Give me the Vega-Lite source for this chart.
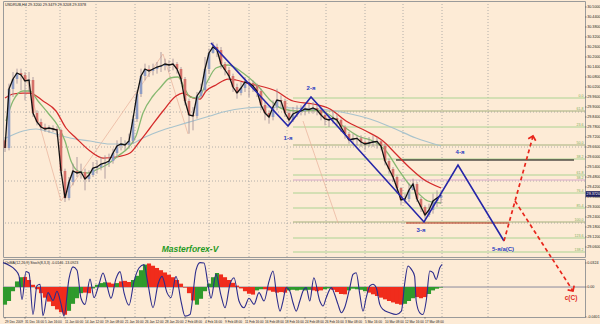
{
"$schema":"https://vega.github.io/schema/vega-lite/v6.json",
"background":"#fdebd6",
"padding":0,
"bounds":"flush",
"spacing":2,
"config":{"view":{"stroke":"#9a9a9a","strokeWidth":1},"text":{"font":"Liberation Sans"}},
"datasets":{
"vg":[{"t":5.25},{"t":13.75},{"t":22.75},{"t":32.5},{"t":41.25},{"t":51},{"t":61},{"t":70.5},{"t":80.25},{"t":90},{"t":99.5},{"t":109.25},{"t":120.75}],
"hg":[{"p":29.870},{"p":29.660},{"p":29.456},{"p":29.204}],
"yt":[{"p":30.5,"s":"30.5000"},{"p":30.44,"s":"30.4400"},{"p":30.38,"s":"30.3800"},{"p":30.32,"s":"30.3200"},{"p":30.26,"s":"30.2600"},{"p":30.2,"s":"30.2000"},{"p":30.14,"s":"30.1400"},{"p":30.08,"s":"30.0800"},{"p":30.02,"s":"30.0200"},{"p":29.96,"s":"29.9600"},{"p":29.9,"s":"29.9000"},{"p":29.84,"s":"29.8400"},{"p":29.78,"s":"29.7800"},{"p":29.72,"s":"29.7200"},{"p":29.66,"s":"29.6600"},{"p":29.6,"s":"29.6000"},{"p":29.54,"s":"29.5400"},{"p":29.48,"s":"29.4800"},{"p":29.42,"s":"29.4200"},{"p":29.36,"s":"29.3600"},{"p":29.3,"s":"29.3000"},{"p":29.24,"s":"29.2400"},{"p":29.18,"s":"29.1800"},{"p":29.12,"s":"29.1200"},{"p":29.06,"s":"29.0600"}],
"xl":[{"t":0,"s":"29 Dec 2009"},{"t":5,"s":"31 Dec 16:00"},{"t":10,"s":"5 Jan 16:00"},{"t":15,"s":"11 Jan 00:00"},{"t":20,"s":"14 Jan 12:00"},{"t":25,"s":"19 Jan 08:00"},{"t":30,"s":"21 Jan 16:00"},{"t":35,"s":"26 Jan 12:00"},{"t":40,"s":"28 Jan 20:00"},{"t":45,"s":"2 Feb 08:00"},{"t":50,"s":"4 Feb 16:00"},{"t":55,"s":"9 Feb 08:00"},{"t":60,"s":"11 Feb 16:00"},{"t":65,"s":"16 Feb 08:00"},{"t":70,"s":"18 Feb 16:00"},{"t":75,"s":"24 Feb 08:00"},{"t":80,"s":"26 Feb 16:00"},{"t":85,"s":"3 Mar 08:00"},{"t":90,"s":"5 Mar 16:00"},{"t":95,"s":"10 Mar 08:00"},{"t":100,"s":"12 Mar 16:00"},{"t":105,"s":"17 Mar 08:00"}],
"yl2":[{"v":0.857,"s":"0.0324"},{"v":0,"s":"0.00"},{"v":-1.07,"s":"-0.0401"}],
"hl":[{"k":"fib","t1":72,"t2":145,"p":29.954},{"k":"fibd","t1":72,"t2":145,"p":29.876},{"k":"fib","t1":72,"t2":145,"p":29.780},{"k":"fibd","t1":72,"t2":145,"p":29.672},{"k":"fib","t1":72,"t2":145,"p":29.588},{"k":"fib","t1":72,"t2":145,"p":29.492},{"k":"pink","t1":72,"t2":145,"p":29.462},{"k":"fib","t1":72,"t2":145,"p":29.384},{"k":"fib","t1":72,"t2":145,"p":29.294},{"k":"fibd","t1":72,"t2":145,"p":29.210},{"k":"fib","t1":72,"t2":145,"p":29.114},{"k":"fib","t1":72,"t2":145,"p":29.030},{"k":"blk","t1":97.75,"t2":142.25,"p":29.582},{"k":"red","t1":100.25,"t2":126,"p":29.204}],
"fl":[{"p":29.966,"s":"0.0"},{"p":29.888,"s":"61.8"},{"p":29.792,"s":"23.6"},{"p":29.684,"s":"50.0"},{"p":29.600,"s":"38.2"},{"p":29.504,"s":"61.8"},{"p":29.474,"s":"38.2"},{"p":29.396,"s":"76.4"},{"p":29.306,"s":"85.4"},{"p":29.222,"s":"100.0"},{"p":29.126,"s":"123.6"},{"p":29.042,"s":"138.2"}],
"zz":[{"g":"a","t":5,"p":30.104},{"g":"a","t":14,"p":29.336},{"g":"a","t":39.5,"p":30.218},{"g":"a","t":45.75,"p":29.738},{"g":"b","t":74.5,"p":29.816},{"g":"b","t":83.25,"p":29.204}],
"ma":[
{"k":"g","t":0.25,"p":29.714},{"k":"g","t":4.5,"p":29.756},{"k":"g","t":7.75,"p":29.768},{"k":"g","t":12,"p":29.744},{"k":"g","t":16.25,"p":29.714},{"k":"g","t":21.25,"p":29.696},{"k":"g","t":26.25,"p":29.678},{"k":"g","t":31.25,"p":29.678},{"k":"g","t":34.5,"p":29.714},{"k":"g","t":38.75,"p":29.756},{"k":"g","t":42.75,"p":29.786},{"k":"g","t":47,"p":29.816},{"k":"g","t":51.25,"p":29.846},{"k":"g","t":54.5,"p":29.870},{"k":"g","t":60.25,"p":29.894},{"k":"g","t":66.25,"p":29.900},{"k":"g","t":72,"p":29.894},{"k":"g","t":78.75,"p":29.888},{"k":"g","t":85.25,"p":29.864},{"k":"g","t":91.25,"p":29.828},{"k":"g","t":97,"p":29.774},{"k":"g","t":102.75,"p":29.714},{"k":"g","t":109,"p":29.666},
{"k":"r","t":0,"p":29.954},{"k":"r","t":2,"p":29.978},{"k":"r","t":4.5,"p":29.984},{"k":"r","t":6.25,"p":29.984},{"k":"r","t":9.5,"p":29.936},{"k":"r","t":12.75,"p":29.876},{"k":"r","t":15.25,"p":29.774},{"k":"r","t":17.75,"p":29.714},{"k":"r","t":21.25,"p":29.636},{"k":"r","t":24.5,"p":29.594},{"k":"r","t":27.75,"p":29.600},{"k":"r","t":31.25,"p":29.624},{"k":"r","t":33.75,"p":29.696},{"k":"r","t":36.25,"p":29.774},{"k":"r","t":39.5,"p":29.876},{"k":"r","t":42.75,"p":29.966},{"k":"r","t":44.5,"p":29.984},{"k":"r","t":47,"p":29.954},{"k":"r","t":48.75,"p":29.948},{"k":"r","t":50.25,"p":29.996},{"k":"r","t":52.75,"p":30.032},{"k":"r","t":55.75,"p":30.068},{"k":"r","t":57.75,"p":30.062},{"k":"r","t":61.25,"p":30.038},{"k":"r","t":63.75,"p":30.026},{"k":"r","t":67.75,"p":29.996},{"k":"r","t":72,"p":29.936},{"k":"r","t":77,"p":29.918},{"k":"r","t":81.25,"p":29.888},{"k":"r","t":85.25,"p":29.816},{"k":"r","t":90.25,"p":29.756},{"k":"r","t":94.5,"p":29.696},{"k":"r","t":97.75,"p":29.618},{"k":"r","t":101.25,"p":29.534},{"k":"r","t":104.5,"p":29.468},{"k":"r","t":109,"p":29.414},
{"k":"n","t":0.25,"p":29.816},{"k":"n","t":2,"p":29.936},{"k":"n","t":4.5,"p":29.996},{"k":"n","t":6.25,"p":29.996},{"k":"n","t":8.25,"p":29.936},{"k":"n","t":10.75,"p":29.864},{"k":"n","t":13.25,"p":29.786},{"k":"n","t":15,"p":29.696},{"k":"n","t":16.5,"p":29.576},{"k":"n","t":18.25,"p":29.516},{"k":"n","t":20.75,"p":29.504},{"k":"n","t":23.25,"p":29.528},{"k":"n","t":25.75,"p":29.558},{"k":"n","t":28.25,"p":29.606},{"k":"n","t":30.75,"p":29.654},{"k":"n","t":32.75,"p":29.726},{"k":"n","t":34.5,"p":29.864},{"k":"n","t":37,"p":29.966},{"k":"n","t":38.75,"p":30.014},{"k":"n","t":41.25,"p":30.074},{"k":"n","t":43.25,"p":30.080},{"k":"n","t":45,"p":30.008},{"k":"n","t":46.25,"p":29.960},{"k":"n","t":48.25,"p":29.954},{"k":"n","t":50.25,"p":30.038},{"k":"n","t":52.75,"p":30.134},{"k":"n","t":55.75,"p":30.152},{"k":"n","t":59.5,"p":30.104},{"k":"n","t":63.25,"p":30.026},{"k":"n","t":66.5,"p":29.936},{"k":"n","t":69.5,"p":29.888},{"k":"n","t":73.25,"p":29.876},{"k":"n","t":77,"p":29.882},{"k":"n","t":80.75,"p":29.858},{"k":"n","t":84.5,"p":29.786},{"k":"n","t":88.25,"p":29.726},{"k":"n","t":92,"p":29.696},{"k":"n","t":95.25,"p":29.636},{"k":"n","t":98.25,"p":29.528},{"k":"n","t":100.75,"p":29.444},{"k":"n","t":103.25,"p":29.384},{"k":"n","t":105.75,"p":29.336},{"k":"n","t":109,"p":29.324}],
"cd":[
{"t":0,"o":29.700,"h":29.720,"l":29.630,"c":29.654},{"t":1,"o":29.654,"h":30.040,"l":29.640,"c":30.008},{"t":2,"o":30.008,"h":30.110,"l":29.960,"c":30.068},{"t":3,"o":30.068,"h":30.130,"l":30.040,"c":30.104},{"t":4,"o":30.104,"h":30.130,"l":30.000,"c":30.092},{"t":5,"o":30.092,"h":30.110,"l":29.940,"c":30.056},{"t":6,"o":30.056,"h":30.110,"l":29.990,"c":30.062},{"t":7,"o":30.062,"h":30.080,"l":29.840,"c":29.864},{"t":8,"o":29.864,"h":29.880,"l":29.790,"c":29.810},{"t":9,"o":29.810,"h":29.830,"l":29.760,"c":29.780},
{"t":10,"o":29.780,"h":29.800,"l":29.750,"c":29.768},{"t":11,"o":29.768,"h":29.790,"l":29.745,"c":29.774},{"t":12,"o":29.774,"h":29.790,"l":29.750,"c":29.768},{"t":13,"o":29.768,"h":29.785,"l":29.720,"c":29.762},{"t":14,"o":29.762,"h":29.770,"l":29.490,"c":29.516},{"t":15,"o":29.516,"h":29.530,"l":29.330,"c":29.354},{"t":16,"o":29.354,"h":29.480,"l":29.340,"c":29.450},{"t":17,"o":29.450,"h":29.560,"l":29.430,"c":29.516},{"t":18,"o":29.516,"h":29.600,"l":29.480,"c":29.504},{"t":19,"o":29.504,"h":29.560,"l":29.470,"c":29.510},
{"t":20,"o":29.510,"h":29.530,"l":29.400,"c":29.468},{"t":21,"o":29.468,"h":29.520,"l":29.450,"c":29.492},{"t":22,"o":29.492,"h":29.570,"l":29.480,"c":29.534},{"t":23,"o":29.534,"h":29.580,"l":29.500,"c":29.540},{"t":24,"o":29.540,"h":29.600,"l":29.520,"c":29.558},{"t":25,"o":29.558,"h":29.610,"l":29.470,"c":29.564},{"t":26,"o":29.564,"h":29.620,"l":29.540,"c":29.576},{"t":27,"o":29.576,"h":29.650,"l":29.560,"c":29.624},{"t":28,"o":29.624,"h":29.700,"l":29.600,"c":29.666},{"t":29,"o":29.666,"h":29.720,"l":29.640,"c":29.678},
{"t":30,"o":29.678,"h":29.700,"l":29.640,"c":29.672},{"t":31,"o":29.672,"h":29.740,"l":29.650,"c":29.696},{"t":32,"o":29.696,"h":29.850,"l":29.680,"c":29.828},{"t":33,"o":29.828,"h":30.000,"l":29.810,"c":29.978},{"t":34,"o":29.978,"h":30.130,"l":29.960,"c":30.086},{"t":35,"o":30.086,"h":30.160,"l":30.060,"c":30.128},{"t":36,"o":30.128,"h":30.150,"l":30.080,"c":30.116},{"t":37,"o":30.116,"h":30.160,"l":30.090,"c":30.128},{"t":38,"o":30.128,"h":30.170,"l":30.100,"c":30.140},{"t":39,"o":30.140,"h":30.230,"l":30.110,"c":30.146},
{"t":40,"o":30.146,"h":30.190,"l":30.120,"c":30.158},{"t":41,"o":30.158,"h":30.180,"l":30.110,"c":30.152},{"t":42,"o":30.152,"h":30.190,"l":30.120,"c":30.158},{"t":43,"o":30.158,"h":30.170,"l":30.100,"c":30.128},{"t":44,"o":30.128,"h":30.140,"l":30.040,"c":30.068},{"t":45,"o":30.068,"h":30.080,"l":29.910,"c":29.936},{"t":46,"o":29.936,"h":29.950,"l":29.740,"c":29.852},{"t":47,"o":29.852,"h":29.900,"l":29.760,"c":29.846},{"t":48,"o":29.846,"h":29.990,"l":29.830,"c":29.966},{"t":49,"o":29.966,"h":30.040,"l":29.950,"c":30.002},
{"t":50,"o":30.002,"h":30.200,"l":29.990,"c":30.128},{"t":51,"o":30.128,"h":30.250,"l":30.100,"c":30.224},{"t":52,"o":30.224,"h":30.290,"l":30.220,"c":30.260},{"t":53,"o":30.260,"h":30.280,"l":30.200,"c":30.242},{"t":54,"o":30.242,"h":30.260,"l":30.130,"c":30.158},{"t":55,"o":30.158,"h":30.170,"l":30.090,"c":30.122},{"t":56,"o":30.122,"h":30.140,"l":30.060,"c":30.086},{"t":57,"o":30.086,"h":30.100,"l":29.990,"c":30.020},{"t":58,"o":30.020,"h":30.040,"l":29.950,"c":29.984},{"t":59,"o":29.984,"h":30.050,"l":29.970,"c":30.014},
{"t":60,"o":30.014,"h":30.080,"l":29.990,"c":30.050},{"t":61,"o":30.050,"h":30.070,"l":29.960,"c":30.044},{"t":62,"o":30.044,"h":30.060,"l":29.990,"c":30.026},{"t":63,"o":30.026,"h":30.040,"l":29.960,"c":29.996},{"t":64,"o":29.996,"h":30.010,"l":29.880,"c":29.912},{"t":65,"o":29.912,"h":29.930,"l":29.820,"c":29.864},{"t":66,"o":29.864,"h":29.880,"l":29.800,"c":29.840},{"t":67,"o":29.840,"h":29.940,"l":29.820,"c":29.900},{"t":68,"o":29.900,"h":30.010,"l":29.880,"c":29.942},{"t":69,"o":29.942,"h":29.970,"l":29.900,"c":29.936},
{"t":70,"o":29.936,"h":29.950,"l":29.840,"c":29.864},{"t":71,"o":29.864,"h":29.880,"l":29.800,"c":29.822},{"t":72,"o":29.822,"h":29.900,"l":29.810,"c":29.858},{"t":73,"o":29.858,"h":29.910,"l":29.840,"c":29.870},{"t":74,"o":29.870,"h":29.910,"l":29.850,"c":29.876},{"t":75,"o":29.876,"h":29.920,"l":29.850,"c":29.888},{"t":76,"o":29.888,"h":29.920,"l":29.860,"c":29.884},{"t":77,"o":29.884,"h":29.930,"l":29.860,"c":29.894},{"t":78,"o":29.894,"h":29.910,"l":29.850,"c":29.882},{"t":79,"o":29.882,"h":29.890,"l":29.820,"c":29.852},
{"t":80,"o":29.852,"h":29.870,"l":29.790,"c":29.828},{"t":81,"o":29.828,"h":29.850,"l":29.780,"c":29.822},{"t":82,"o":29.822,"h":29.880,"l":29.800,"c":29.834},{"t":83,"o":29.834,"h":29.860,"l":29.790,"c":29.822},{"t":84,"o":29.822,"h":29.830,"l":29.750,"c":29.780},{"t":85,"o":29.780,"h":29.790,"l":29.710,"c":29.738},{"t":86,"o":29.738,"h":29.750,"l":29.680,"c":29.702},{"t":87,"o":29.702,"h":29.740,"l":29.680,"c":29.708},{"t":88,"o":29.708,"h":29.730,"l":29.670,"c":29.712},{"t":89,"o":29.712,"h":29.730,"l":29.660,"c":29.690},
{"t":90,"o":29.690,"h":29.700,"l":29.640,"c":29.678},{"t":91,"o":29.678,"h":29.720,"l":29.660,"c":29.684},{"t":92,"o":29.684,"h":29.730,"l":29.660,"c":29.690},{"t":93,"o":29.690,"h":29.720,"l":29.650,"c":29.694},{"t":94,"o":29.694,"h":29.700,"l":29.640,"c":29.666},{"t":95,"o":29.666,"h":29.680,"l":29.550,"c":29.576},{"t":96,"o":29.576,"h":29.590,"l":29.500,"c":29.528},{"t":97,"o":29.528,"h":29.540,"l":29.450,"c":29.480},{"t":98,"o":29.480,"h":29.490,"l":29.380,"c":29.414},{"t":99,"o":29.414,"h":29.420,"l":29.310,"c":29.342},
{"t":100,"o":29.342,"h":29.380,"l":29.320,"c":29.348},{"t":101,"o":29.348,"h":29.440,"l":29.330,"c":29.402},{"t":102,"o":29.402,"h":29.470,"l":29.400,"c":29.438},{"t":103,"o":29.438,"h":29.450,"l":29.330,"c":29.348},{"t":104,"o":29.348,"h":29.360,"l":29.270,"c":29.300},{"t":105,"o":29.300,"h":29.310,"l":29.230,"c":29.252},{"t":106,"o":29.252,"h":29.320,"l":29.240,"c":29.282},{"t":107,"o":29.282,"h":29.380,"l":29.260,"c":29.336},{"t":108,"o":29.336,"h":29.400,"l":29.300,"c":29.354},{"t":109,"o":29.354,"h":29.400,"l":29.320,"c":29.372}],
"wave":[{"t":51.5,"p":30.284},{"t":70.75,"p":29.786},{"t":76.5,"p":29.960},{"t":104.75,"p":29.210},{"t":113.25,"p":29.552},{"t":124.75,"p":29.096}],
"arr":[{"g":"a1","t":124.75,"p":29.096},{"g":"a1","t":132,"p":29.726},{"g":"a2","t":127.5,"p":29.336},{"g":"a2","t":136.5,"p":29.0}],
"arrlo":[{"t":136.85,"v":1.0},{"t":142,"v":-0.142}],
"wl":[{"t":70.75,"p":29.714,"s":"1-я"},{"t":76.5,"p":30.014,"s":"2-я"},{"t":104,"p":29.162,"s":"3-я"},{"t":113.75,"p":29.630,"s":"4-я"},{"t":124.5,"p":29.048,"s":"5-я/а(C)"}],
"osc":[{"t":-0.5,"v":0.87},{"t":1,"v":0.78},{"t":2.5,"v":0.62},{"t":3.5,"v":0.40},{"t":4.25,"v":-0.45},{"t":5.25,"v":0.55},{"t":6,"v":0.50},{"t":7,"v":-0.98},{"t":8,"v":0.05},{"t":8.75,"v":0.10},{"t":9.5,"v":-1.02},{"t":10.75,"v":-0.20},{"t":12,"v":-0.48},{"t":13,"v":-0.15},{"t":14,"v":-0.60},{"t":14.75,"v":-1.04},{"t":16,"v":0.30},{"t":17,"v":0.72},{"t":18,"v":0.60},{"t":19,"v":-0.40},{"t":20,"v":-0.62},{"t":21.25,"v":0.28},{"t":22.25,"v":-0.38},{"t":23.5,"v":0.10},{"t":24.5,"v":0.50},{"t":25.5,"v":0.05},{"t":26.5,"v":-0.40},{"t":27.75,"v":0.30},{"t":28.75,"v":0.55},{"t":29.75,"v":-0.20},{"t":31,"v":-0.65},{"t":32.25,"v":0.20},{"t":33.5,"v":0.68},{"t":34.75,"v":0.80},{"t":35.75,"v":0.10},{"t":37,"v":-0.74},{"t":38.25,"v":0.10},{"t":39.25,"v":0.38},{"t":40.5,"v":-0.20},{"t":41.5,"v":-0.38},{"t":42.75,"v":0.38},{"t":44,"v":-0.50},{"t":45,"v":-1.04},{"t":46.25,"v":-0.98},{"t":47.75,"v":0.60},{"t":48.75,"v":0.87},{"t":49.75,"v":0.86},{"t":50.75,"v":0.10},{"t":51.5,"v":-0.40},{"t":52.75,"v":0.45},{"t":54,"v":-0.30},{"t":55,"v":-0.74},{"t":56.25,"v":0.10},{"t":57.25,"v":0.33},{"t":58.5,"v":-0.50},{"t":59.75,"v":-0.74},{"t":61,"v":-0.40},{"t":62.25,"v":-0.62},{"t":63.5,"v":-0.20},{"t":64.75,"v":-0.50},{"t":66,"v":0.20},{"t":67,"v":0.57},{"t":68,"v":-0.40},{"t":68.75,"v":-0.86},{"t":69.5,"v":-0.50},{"t":70.3,"v":-0.02},{"t":71.2,"v":-0.14},{"t":72,"v":-0.56},{"t":72.8,"v":-0.86},{"t":73.7,"v":-0.50},{"t":74.5,"v":-0.14},{"t":75.3,"v":-0.02},{"t":76.2,"v":-0.50},{"t":77.2,"v":0.33},{"t":78.7,"v":-0.50},{"t":79.5,"v":-0.68},{"t":80.3,"v":-0.38},{"t":81.6,"v":-0.02},{"t":82.4,"v":-0.26},{"t":83.25,"v":-0.62},{"t":84.1,"v":-0.92},{"t":84.9,"v":-0.74},{"t":86.2,"v":-0.02},{"t":87,"v":0.45},{"t":87.8,"v":0.51},{"t":88.7,"v":-0.26},{"t":89.5,"v":-0.86},{"t":90.3,"v":-0.38},{"t":91.2,"v":0.04},{"t":92,"v":0.10},{"t":92.8,"v":-0.02},{"t":93.7,"v":-0.62},{"t":94.5,"v":-0.80},{"t":96.2,"v":-0.92},{"t":97.8,"v":-0.98},{"t":99.1,"v":-0.86},{"t":99.9,"v":0.10},{"t":100.75,"v":0.75},{"t":101.6,"v":0.63},{"t":102.4,"v":0.39},{"t":102.8,"v":-0.50},{"t":103.7,"v":-0.92},{"t":104.5,"v":-0.98},{"t":105.3,"v":-0.50},{"t":106.2,"v":0.57},{"t":107,"v":0.51},{"t":107.8,"v":0.27},{"t":108.7,"v":0.69},{"t":109.3,"v":0.81}],
"hist":[{"t":0,"h":-0.63,"s":"u"},{"t":1,"h":-0.5,"s":"u"},{"t":2,"h":-0.15,"s":"u"},{"t":3,"h":0.2,"s":"u"},{"t":4,"h":0.35,"s":"u"},{"t":5,"h":0.36,"s":"d"},{"t":6,"h":0.25,"s":"d"},{"t":7,"h":0.08,"s":"d"},{"t":8,"h":-0.08,"s":"d"},{"t":9,"h":-0.22,"s":"d"},{"t":10,"h":-0.38,"s":"d"},{"t":11,"h":-0.52,"s":"d"},{"t":12,"h":-0.68,"s":"d"},{"t":13,"h":-0.8,"s":"d"},{"t":14,"h":-0.9,"s":"d"},{"t":15,"h":-0.99,"s":"d"},{"t":16,"h":-0.85,"s":"u"},{"t":17,"h":-0.6,"s":"u"},{"t":18,"h":-0.4,"s":"u"},{"t":19,"h":-0.22,"s":"u"},{"t":20,"h":-0.2,"s":"d"},{"t":21,"h":-0.22,"s":"d"},{"t":22,"h":-0.05,"s":"u"},{"t":23,"h":0.08,"s":"u"},{"t":24,"h":0.14,"s":"u"},{"t":25,"h":0.17,"s":"u"},{"t":26,"h":0.16,"s":"d"},{"t":27,"h":0.12,"s":"d"},{"t":28,"h":0.14,"s":"u"},{"t":29,"h":0.2,"s":"d"},{"t":30,"h":0.22,"s":"d"},{"t":31,"h":0.18,"s":"d"},{"t":32,"h":0.25,"s":"u"},{"t":33,"h":0.4,"s":"u"},{"t":34,"h":0.6,"s":"u"},{"t":35,"h":0.8,"s":"u"},{"t":36,"h":0.84,"s":"d"},{"t":37,"h":0.76,"s":"d"},{"t":38,"h":0.68,"s":"d"},{"t":39,"h":0.6,"s":"d"},{"t":40,"h":0.52,"s":"d"},{"t":41,"h":0.44,"s":"d"},{"t":42,"h":0.35,"s":"d"},{"t":43,"h":0.25,"s":"d"},{"t":44,"h":0.12,"s":"d"},{"t":45,"h":-0.02,"s":"d"},{"t":46,"h":-0.22,"s":"d"},{"t":47,"h":-0.48,"s":"d"},{"t":48,"h":-0.63,"s":"u"},{"t":49,"h":-0.42,"s":"u"},{"t":50,"h":-0.15,"s":"u"},{"t":51,"h":0.12,"s":"u"},{"t":52,"h":0.35,"s":"u"},{"t":53,"h":0.5,"s":"u"},{"t":54,"h":0.45,"s":"d"},{"t":55,"h":0.35,"s":"d"},{"t":56,"h":0.25,"s":"d"},{"t":57,"h":0.15,"s":"d"},{"t":58,"h":0.05,"s":"d"},{"t":59,"h":-0.05,"s":"d"},{"t":60,"h":-0.15,"s":"d"},{"t":61,"h":-0.24,"s":"d"},{"t":62,"h":-0.27,"s":"d"},{"t":63,"h":-0.12,"s":"u"},{"t":64,"h":-0.08,"s":"u"},{"t":65,"h":-0.08,"s":"d"},{"t":66,"h":-0.12,"s":"d"},{"t":67,"h":-0.17,"s":"d"},{"t":68,"h":-0.2,"s":"d"},{"t":69,"h":-0.18,"s":"d"},{"t":70,"h":-0.2,"s":"d"},{"t":71,"h":-0.12,"s":"u"},{"t":72,"h":-0.1,"s":"u"},{"t":73,"h":-0.12,"s":"u"},{"t":74,"h":-0.1,"s":"u"},{"t":75,"h":-0.12,"s":"u"},{"t":76,"h":-0.1,"s":"u"},{"t":77,"h":-0.12,"s":"d"},{"t":78,"h":-0.15,"s":"d"},{"t":79,"h":-0.12,"s":"d"},{"t":80,"h":-0.08,"s":"u"},{"t":81,"h":-0.05,"s":"u"},{"t":82,"h":-0.1,"s":"d"},{"t":83,"h":-0.18,"s":"d"},{"t":84,"h":-0.25,"s":"d"},{"t":85,"h":-0.26,"s":"d"},{"t":86,"h":-0.12,"s":"u"},{"t":87,"h":-0.06,"s":"u"},{"t":88,"h":-0.08,"s":"u"},{"t":89,"h":-0.1,"s":"u"},{"t":90,"h":-0.15,"s":"u"},{"t":91,"h":-0.2,"s":"d"},{"t":92,"h":-0.26,"s":"d"},{"t":93,"h":-0.32,"s":"d"},{"t":94,"h":-0.38,"s":"d"},{"t":95,"h":-0.44,"s":"d"},{"t":96,"h":-0.5,"s":"d"},{"t":97,"h":-0.55,"s":"d"},{"t":98,"h":-0.6,"s":"d"},{"t":99,"h":-0.63,"s":"d"},{"t":100,"h":-0.6,"s":"u"},{"t":101,"h":-0.5,"s":"u"},{"t":102,"h":-0.4,"s":"u"},{"t":103,"h":-0.36,"s":"d"},{"t":104,"h":-0.4,"s":"d"},{"t":105,"h":-0.36,"s":"d"},{"t":106,"h":-0.25,"s":"u"},{"t":107,"h":-0.12,"s":"u"},{"t":108,"h":-0.06,"s":"u"},{"t":109,"h":-0.02,"s":"u"}]
},
"vconcat":[
{
"width":582,"height":256,
"resolve":{"scale":{"color":"independent","strokeWidth":"independent"}},
"layer":[
{"data":{"name":"vg"},"mark":{"type":"rule","color":"#a0a0a0","strokeDash":[1,2],"strokeWidth":0.8},
 "encoding":{"x":{"field":"t","type":"quantitative","scale":{"domain":[-0.5,145],"nice":false,"zero":false},"axis":null}}},
{"data":{"name":"hg"},"mark":{"type":"rule","color":"#a0a0a0","strokeDash":[1,2],"strokeWidth":0.8},
 "encoding":{"y":{"field":"p","type":"quantitative","scale":{"domain":[29.0,30.536],"nice":false,"zero":false},"axis":null}}},
{"data":{"name":"yt"},"mark":{"type":"rule","color":"#666666","strokeWidth":0.8},
 "encoding":{"x":{"datum":145,"type":"quantitative","scale":{"domain":[-0.5,145],"nice":false,"zero":false},"axis":null},"x2":{"datum":145.4},
  "y":{"field":"p","type":"quantitative","scale":{"domain":[29.0,30.536],"nice":false,"zero":false},"axis":null}}},
{"data":{"name":"yt"},"mark":{"type":"text","align":"left","baseline":"middle","fontSize":3.7,"color":"#222222"},
 "encoding":{"x":{"datum":145.55,"type":"quantitative","scale":{"domain":[-0.5,145],"nice":false,"zero":false},"axis":null},
  "y":{"field":"p","type":"quantitative","scale":{"domain":[29.0,30.536],"nice":false,"zero":false},"axis":null},"text":{"field":"s"}}},
{"data":{"name":"hl"},"mark":{"type":"rule"},
 "encoding":{"x":{"field":"t1","type":"quantitative","scale":{"domain":[-0.5,145],"nice":false,"zero":false},"axis":null},"x2":{"field":"t2"},
  "y":{"field":"p","type":"quantitative","scale":{"domain":[29.0,30.536],"nice":false,"zero":false},"axis":null},
  "color":{"field":"k","type":"nominal","scale":{"domain":["fib","fibd","pink","blk","red"],"range":["#acd392","#a4b07c","#d8a8c8","#000000","#b8321a"]},"legend":null},
  "strokeWidth":{"field":"k","type":"ordinal","scale":{"domain":["fib","fibd","pink","blk","red"],"range":[1,1,1,2.6,1.6]},"legend":null}}},
{"data":{"name":"fl"},"mark":{"type":"text","align":"right","baseline":"middle","fontSize":3.6,"color":"#7fae62"},
 "encoding":{"x":{"datum":144.6,"type":"quantitative","scale":{"domain":[-0.5,145],"nice":false,"zero":false},"axis":null},
  "y":{"field":"p","type":"quantitative","scale":{"domain":[29.0,30.536],"nice":false,"zero":false},"axis":null},"text":{"field":"s"}}},
{"data":{"name":"zz"},"mark":{"type":"line","color":"#e8b09a","strokeWidth":0.7},
 "encoding":{"x":{"field":"t","type":"quantitative","scale":{"domain":[-0.5,145],"nice":false,"zero":false},"axis":null},
  "y":{"field":"p","type":"quantitative","scale":{"domain":[29.0,30.536],"nice":false,"zero":false},"axis":null},"detail":{"field":"g"}}},
{"data":{"name":"ma"},"mark":{"type":"line","interpolate":"monotone"},
 "encoding":{"x":{"field":"t","type":"quantitative","scale":{"domain":[-0.5,145],"nice":false,"zero":false},"axis":null},
  "y":{"field":"p","type":"quantitative","scale":{"domain":[29.0,30.536],"nice":false,"zero":false},"axis":null},
  "color":{"field":"k","type":"nominal","scale":{"domain":["g","r","n"],"range":["#a9c3cc","#d42a2a","#86b870"]},"legend":null},
  "strokeWidth":{"field":"k","type":"ordinal","scale":{"domain":["g","r","n"],"range":[1.2,1.3,0.8]},"legend":null}}},
{"data":{"name":"cd"},"mark":{"type":"rule","color":"#9c8a94","strokeWidth":0.8},
 "encoding":{"x":{"field":"t","type":"quantitative","scale":{"domain":[-0.5,145],"nice":false,"zero":false},"axis":null},
  "y":{"field":"l","type":"quantitative","scale":{"domain":[29.0,30.536],"nice":false,"zero":false},"axis":null},"y2":{"field":"h"}}},
{"data":{"name":"cd"},"mark":{"type":"rule","strokeWidth":2.6,"strokeCap":"butt"},
 "encoding":{"x":{"field":"t","type":"quantitative","scale":{"domain":[-0.5,145],"nice":false,"zero":false},"axis":null},
  "y":{"field":"o","type":"quantitative","scale":{"domain":[29.0,30.536],"nice":false,"zero":false},"axis":null},"y2":{"field":"c"},
  "color":{"condition":{"test":"datum.c >= datum.o","value":"#8e9cc4"},"value":"#d4716a"}}},
{"data":{"name":"cd"},"mark":{"type":"line","color":"#111111","strokeWidth":1.3},
 "encoding":{"x":{"field":"t","type":"quantitative","scale":{"domain":[-0.5,145],"nice":false,"zero":false},"axis":null},
  "y":{"field":"c","type":"quantitative","scale":{"domain":[29.0,30.536],"nice":false,"zero":false},"axis":null}}},
{"data":{"name":"wave"},"mark":{"type":"line","color":"#2626a8","strokeWidth":1.6},
 "encoding":{"x":{"field":"t","type":"quantitative","scale":{"domain":[-0.5,145],"nice":false,"zero":false},"axis":null},
  "y":{"field":"p","type":"quantitative","scale":{"domain":[29.0,30.536],"nice":false,"zero":false},"axis":null}}},
{"data":{"name":"arr"},"mark":{"type":"line","color":"#e8261c","strokeWidth":1.7,"strokeDash":[4,3]},
 "encoding":{"x":{"field":"t","type":"quantitative","scale":{"domain":[-0.5,145],"nice":false,"zero":false},"axis":null},
  "y":{"field":"p","type":"quantitative","scale":{"domain":[29.0,30.536],"nice":false,"zero":false},"axis":null},"detail":{"field":"g"}}},
{"data":{"values":[{"t":132,"p":29.726,"a":15.4}]},"mark":{"type":"point","shape":"M-1,1L0,0L1,1","filled":false,"stroke":"#e8261c","strokeWidth":1.7,"size":60,"opacity":1},
 "encoding":{"x":{"field":"t","type":"quantitative","scale":{"domain":[-0.5,145],"nice":false,"zero":false},"axis":null},
  "y":{"field":"p","type":"quantitative","scale":{"domain":[29.0,30.536],"nice":false,"zero":false},"axis":null},
  "angle":{"field":"a","type":"quantitative","scale":null}}},
{"data":{"name":"wl"},"mark":{"type":"text","fontSize":6,"fontWeight":"bold","color":"#2a3cc0","align":"center","baseline":"middle"},
 "encoding":{"x":{"field":"t","type":"quantitative","scale":{"domain":[-0.5,145],"nice":false,"zero":false},"axis":null},
  "y":{"field":"p","type":"quantitative","scale":{"domain":[29.0,30.536],"nice":false,"zero":false},"axis":null},"text":{"field":"s"}}},
{"data":{"values":[{"t":46.25,"p":29.048,"s":"Masterforex-V"}]},"mark":{"type":"text","fontSize":8.5,"fontWeight":"bold","fontStyle":"italic","color":"#1f9a1f","align":"center","baseline":"middle"},
 "encoding":{"x":{"field":"t","type":"quantitative","scale":{"domain":[-0.5,145],"nice":false,"zero":false},"axis":null},
  "y":{"field":"p","type":"quantitative","scale":{"domain":[29.0,30.536],"nice":false,"zero":false},"axis":null},"text":{"field":"s"}}},
{"data":{"values":[{"t":0,"p":30.514,"s":"USDRUB,H4  29.3200 29.3479 29.3208 29.3378"}]},"mark":{"type":"text","fontSize":3.8,"color":"#222222","align":"left","baseline":"middle"},
 "encoding":{"x":{"field":"t","type":"quantitative","scale":{"domain":[-0.5,145],"nice":false,"zero":false},"axis":null},
  "y":{"field":"p","type":"quantitative","scale":{"domain":[29.0,30.536],"nice":false,"zero":false},"axis":null},"text":{"field":"s"}}},
{"data":{"values":[{"t1":145.2,"t2":149.2,"p1":29.361,"p2":29.395}]},"mark":{"type":"rect","color":"#1c1c5c"},
 "encoding":{"x":{"field":"t1","type":"quantitative","scale":{"domain":[-0.5,145],"nice":false,"zero":false},"axis":null},"x2":{"field":"t2"},
  "y":{"field":"p1","type":"quantitative","scale":{"domain":[29.0,30.536],"nice":false,"zero":false},"axis":null},"y2":{"field":"p2"}}},
{"data":{"values":[{"t":145.4,"p":29.378,"s":"29.3720"}]},"mark":{"type":"text","fontSize":3.7,"color":"#ffffff","align":"left","baseline":"middle"},
 "encoding":{"x":{"field":"t","type":"quantitative","scale":{"domain":[-0.5,145],"nice":false,"zero":false},"axis":null},
  "y":{"field":"p","type":"quantitative","scale":{"domain":[29.0,30.536],"nice":false,"zero":false},"axis":null},"text":{"field":"s"}}}
]
},
{
"width":582,"height":58,
"layer":[
{"data":{"name":"vg"},"mark":{"type":"rule","color":"#a0a0a0","strokeDash":[1,2],"strokeWidth":0.8},
 "encoding":{"x":{"field":"t","type":"quantitative","scale":{"domain":[-0.5,145],"nice":false,"zero":false},"axis":null}}},
{"data":{"values":[{"v":0}]},"mark":{"type":"rule","color":"#8a8a9c","strokeWidth":1},
 "encoding":{"y":{"field":"v","type":"quantitative","scale":{"domain":[-1.07,1],"nice":false,"zero":false},"axis":null}}},
{"data":{"name":"hist"},"mark":{"type":"rule","strokeWidth":4.1,"strokeCap":"butt"},
 "encoding":{"x":{"field":"t","type":"quantitative","scale":{"domain":[-0.5,145],"nice":false,"zero":false},"axis":null},
  "y":{"field":"h","type":"quantitative","scale":{"domain":[-1.07,1],"nice":false,"zero":false},"axis":null},"y2":{"datum":0},
  "color":{"condition":{"test":"datum.s == 'u'","value":"#2f9a2c"},"value":"#f02c1c"}}},
{"data":{"name":"osc"},"mark":{"type":"line","color":"#2c2c8c","strokeWidth":1.1,"interpolate":"monotone"},
 "encoding":{"x":{"field":"t","type":"quantitative","scale":{"domain":[-0.5,145],"nice":false,"zero":false},"axis":null},
  "y":{"field":"v","type":"quantitative","scale":{"domain":[-1.07,1],"nice":false,"zero":false},"axis":null}}},
{"data":{"name":"arrlo"},"mark":{"type":"line","color":"#e8261c","strokeWidth":1.7,"strokeDash":[4,3]},
 "encoding":{"x":{"field":"t","type":"quantitative","scale":{"domain":[-0.5,145],"nice":false,"zero":false},"axis":null},
  "y":{"field":"v","type":"quantitative","scale":{"domain":[-1.07,1],"nice":false,"zero":false},"axis":null}}},
{"data":{"values":[{"t":142,"v":-0.142,"a":147.2}]},"mark":{"type":"point","shape":"M-1,1L0,0L1,1","filled":false,"stroke":"#e8261c","strokeWidth":1.7,"size":60,"opacity":1},
 "encoding":{"x":{"field":"t","type":"quantitative","scale":{"domain":[-0.5,145],"nice":false,"zero":false},"axis":null},
  "y":{"field":"v","type":"quantitative","scale":{"domain":[-1.07,1],"nice":false,"zero":false},"axis":null},
  "angle":{"field":"a","type":"quantitative","scale":null}}},
{"data":{"values":[{"t":141.5,"v":-0.392,"s":"c(C)"}]},"mark":{"type":"text","fontSize":6.5,"fontWeight":"bold","color":"#e02a1e","align":"center","baseline":"middle"},
 "encoding":{"x":{"field":"t","type":"quantitative","scale":{"domain":[-0.5,145],"nice":false,"zero":false},"axis":null},
  "y":{"field":"v","type":"quantitative","scale":{"domain":[-1.07,1],"nice":false,"zero":false},"axis":null},"text":{"field":"s"}}},
{"data":{"values":[{"t":0,"v":0.86,"s":"OsMA(12,26,9) Stoch(8,3,3)  -0.0146  -13.0923"}]},"mark":{"type":"text","fontSize":3.6,"color":"#222222","align":"left","baseline":"middle"},
 "encoding":{"x":{"field":"t","type":"quantitative","scale":{"domain":[-0.5,145],"nice":false,"zero":false},"axis":null},
  "y":{"field":"v","type":"quantitative","scale":{"domain":[-1.07,1],"nice":false,"zero":false},"axis":null},"text":{"field":"s"}}},
{"data":{"name":"yl2"},"mark":{"type":"rule","color":"#666666","strokeWidth":0.8},
 "encoding":{"x":{"datum":145,"type":"quantitative","scale":{"domain":[-0.5,145],"nice":false,"zero":false},"axis":null},"x2":{"datum":145.4},
  "y":{"field":"v","type":"quantitative","scale":{"domain":[-1.07,1],"nice":false,"zero":false},"axis":null}}},
{"data":{"name":"yl2"},"mark":{"type":"text","align":"left","baseline":"middle","fontSize":3.7,"color":"#222222"},
 "encoding":{"x":{"datum":145.55,"type":"quantitative","scale":{"domain":[-0.5,145],"nice":false,"zero":false},"axis":null},
  "y":{"field":"v","type":"quantitative","scale":{"domain":[-1.07,1],"nice":false,"zero":false},"axis":null},"text":{"field":"s"}}},
{"data":{"name":"xl"},"mark":{"type":"rule","color":"#666666","strokeWidth":0.8},
 "encoding":{"x":{"field":"t","type":"quantitative","scale":{"domain":[-0.5,145],"nice":false,"zero":false},"axis":null},
  "y":{"datum":-1.07,"type":"quantitative","scale":{"domain":[-1.07,1],"nice":false,"zero":false},"axis":null},"y2":{"datum":-1.13}}},
{"data":{"name":"xl"},"mark":{"type":"text","align":"left","baseline":"middle","fontSize":3.2,"color":"#222222"},
 "encoding":{"x":{"field":"t","type":"quantitative","scale":{"domain":[-0.5,145],"nice":false,"zero":false},"axis":null},
  "y":{"datum":-1.23,"type":"quantitative","scale":{"domain":[-1.07,1],"nice":false,"zero":false},"axis":null},"text":{"field":"s"}}}
]
}
]
}
